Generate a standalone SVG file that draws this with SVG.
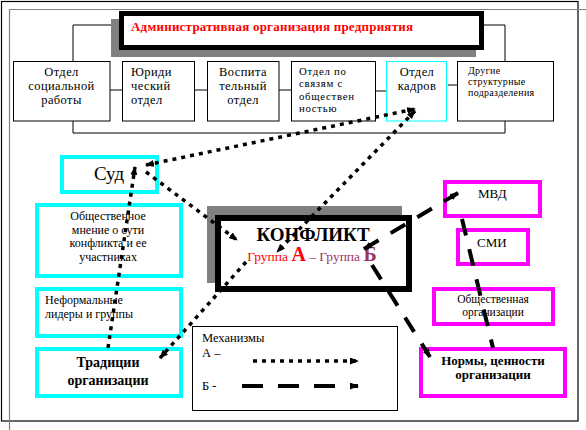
<svg xmlns="http://www.w3.org/2000/svg" width="586" height="430" viewBox="0 0 586 430" font-family="'Liberation Serif','Times New Roman',serif">
<style>
text{font-family:"Liberation Serif","Times New Roman",serif;fill:#000}
.org{fill:#fff;stroke:#000;stroke-width:1}
.t{font-size:12.5px;letter-spacing:0.4px}
.cy{fill:#fff;stroke:#00ffff;stroke-width:4}
.mg{fill:#fff;stroke:#ff00ff;stroke-width:4}
.ln{fill:none;stroke:#000;stroke-width:1}
.a{fill:none;stroke:#000;stroke-width:3.5;stroke-dasharray:4 5}
.b{fill:none;stroke:#000;stroke-width:4;stroke-dasharray:17 14}
.shadow{fill:#808080}
</style>
<defs>
<marker id="ah" markerUnits="userSpaceOnUse" markerWidth="9" markerHeight="7" refX="8" refY="3.5" orient="auto-start-reverse">
<path d="M0,0 L9,3.5 L0,7 z" fill="#000"/>
</marker>
</defs>

<!-- frame -->
<rect x="1.5" y="1.5" width="576.5" height="419.5" fill="#fff" stroke="#000" stroke-width="1.2"/>
<path d="M9.5,430 V9.5 H586" fill="none" stroke="#808080" stroke-width="1.2"/>

<!-- org chart lines -->
<g id="org-lines">
<path class="ln" d="M119,25 H73 V61"/>
<path class="ln" d="M484,25 H505 V61"/>
<path class="ln" d="M73,121 V133 H505 V121"/>
<path class="ln" d="M110,90 H122 M195,90 H207 M279,90 H291 M376,91 H386 M448,85 H457"/>
</g>

<g id="title">
<rect class="shadow" x="111" y="19" width="365" height="38"/>
<rect x="121.5" y="13.5" width="360" height="34" fill="#fff" stroke="#000" stroke-width="5"/>
<text x="131" y="31" font-size="13" font-weight="bold" style="fill:#ff0000" textLength="282" lengthAdjust="spacing">Административная организация предприятия</text>
</g>

<g id="dept-social">
<rect class="org" x="13.5" y="61.5" width="96.5" height="59.5"/>
<text class="t" x="61.5" y="76" text-anchor="middle">Отдел</text>
<text class="t" x="61.5" y="90" text-anchor="middle">социальной</text>
<text class="t" x="61.5" y="104" text-anchor="middle">работы</text>
</g>
<g id="dept-legal">
<rect class="org" x="122.5" y="61.5" width="72" height="59.5"/>
<text class="t" x="131" y="76">Юриди</text>
<text class="t" x="131" y="90">ческий</text>
<text class="t" x="131" y="104">отдел</text>
</g>
<g id="dept-edu">
<rect class="org" x="207.5" y="61.5" width="71.5" height="59.5"/>
<text class="t" x="243" y="76" text-anchor="middle">Воспита</text>
<text class="t" x="243" y="90" text-anchor="middle">тельный</text>
<text class="t" x="243" y="104" text-anchor="middle">отдел</text>
</g>
<g id="dept-pr">
<rect class="org" x="291.5" y="61.5" width="84" height="59.5"/>
<text x="299" y="74.5" font-size="10.8" letter-spacing="0.7">Отдел по</text>
<text x="299" y="87" font-size="10.8" letter-spacing="0.7">связям с</text>
<text x="299" y="99.5" font-size="10.8" letter-spacing="0.7">обществен</text>
<text x="299" y="112" font-size="10.8" letter-spacing="0.7">ностью</text>
</g>
<g id="dept-hr">
<rect x="386.5" y="61.5" width="60" height="59.5" fill="#fff" stroke="#00ffff" stroke-width="1"/>
<text class="t" x="417" y="76" text-anchor="middle">Отдел</text>
<text class="t" x="417" y="90" text-anchor="middle">кадров</text>
</g>
<g id="dept-other">
<rect class="org" x="457.5" y="61.5" width="96" height="59.5"/>
<text x="468" y="73.5" font-size="10" letter-spacing="0.3">Другие</text>
<text x="468" y="84.5" font-size="10" letter-spacing="0.3">структурные</text>
<text x="468" y="95.5" font-size="10" letter-spacing="0.3">подразделения</text>
</g>

<g id="court">
<rect class="cy" x="62" y="157" width="95" height="35"/>
<text x="109" y="180" font-size="19" text-anchor="middle">Суд</text>
</g>
<g id="opinion">
<rect class="cy" x="37" y="205" width="144" height="71"/>
<text x="108" y="220" font-size="12" text-anchor="middle">Общественное</text>
<text x="108" y="233.5" font-size="12" text-anchor="middle">мнение о сути</text>
<text x="108" y="247" font-size="12" text-anchor="middle">конфликта и ее</text>
<text x="108" y="260.5" font-size="12" text-anchor="middle">участниках</text>
</g>
<g id="informal">
<rect class="cy" x="37" y="289" width="144" height="47"/>
<text x="45" y="304" font-size="12">Неформальные</text>
<text x="45" y="318" font-size="12">лидеры и группы</text>
</g>
<g id="traditions">
<rect class="cy" x="37" y="349" width="144" height="47"/>
<text x="108" y="367" font-size="14" font-weight="bold" text-anchor="middle">Традиции</text>
<text x="108" y="385" font-size="14" font-weight="bold" text-anchor="middle">организации</text>
</g>

<g id="conflict">
<rect class="shadow" x="207" y="206" width="195" height="77"/>
<rect x="218" y="218" width="191" height="71" fill="#fff" stroke="#000" stroke-width="6"/>
<text x="313" y="241" font-size="19" font-weight="bold" text-anchor="middle">КОНФЛИКТ</text>
<text x="312" y="261" text-anchor="middle" font-size="13.5"><tspan style="fill:#ff0000">Группа </tspan><tspan style="fill:#ff0000" font-size="20" font-weight="bold">А</tspan><tspan style="fill:#993366"> – Группа </tspan><tspan style="fill:#993366" font-size="20" font-weight="bold">Б</tspan></text>
</g>

<g id="legend">
<rect x="192.5" y="326.5" width="205" height="84" fill="#fff" stroke="#000" stroke-width="1"/>
<text x="202" y="342" font-size="12.5">Механизмы</text>
<text x="202" y="356.5" font-size="12.5">А –</text>
<text x="202" y="390" font-size="12.5">Б -</text>
<line class="a" x1="253" y1="361" x2="358" y2="361" marker-end="url(#ah)"/>
<line class="b" x1="242" y1="386" x2="358" y2="386" marker-end="url(#ah)" style="stroke-dasharray:21 15"/>
</g>

<g id="mvd">
<rect class="mg" x="445" y="182" width="95" height="34"/>
<text x="478" y="198" font-size="13">МВД</text>
</g>
<g id="media">
<rect class="mg" x="458" y="230" width="70" height="34"/>
<text x="477" y="247" font-size="13">СМИ</text>
</g>
<g id="public-org">
<rect class="mg" x="434" y="289" width="119" height="35"/>
<text x="493" y="303" font-size="11.5" text-anchor="middle">Общественная</text>
<text x="493" y="316" font-size="11.5" text-anchor="middle">организации</text>
</g>
<g id="norms">
<rect class="mg" x="421" y="349" width="144" height="47"/>
<text x="493" y="365" font-size="13" font-weight="bold" text-anchor="middle">Нормы, ценности</text>
<text x="493" y="379" font-size="13" font-weight="bold" text-anchor="middle">организации</text>
</g>

<g id="connectors">
<line class="a" x1="146" y1="165" x2="415" y2="109" marker-start="url(#ah)" marker-end="url(#ah)"/>
<line class="a" x1="146" y1="172" x2="237" y2="240" marker-end="url(#ah)"/>
<line class="a" x1="415" y1="111" x2="277" y2="252" marker-start="url(#ah)" marker-end="url(#ah)"/>
<line class="a" x1="246" y1="262" x2="160" y2="358" marker-end="url(#ah)"/>
<line class="a" x1="108" y1="348" x2="135" y2="167" marker-end="url(#ah)"/>
<line class="b" x1="364" y1="249" x2="458" y2="193" marker-start="url(#ah)" marker-end="url(#ah)"/>
<line class="b" x1="372" y1="265" x2="430" y2="357" marker-end="url(#ah)"/>
<line class="b" x1="462" y1="219" x2="493" y2="348"/>
</g>
</svg>
